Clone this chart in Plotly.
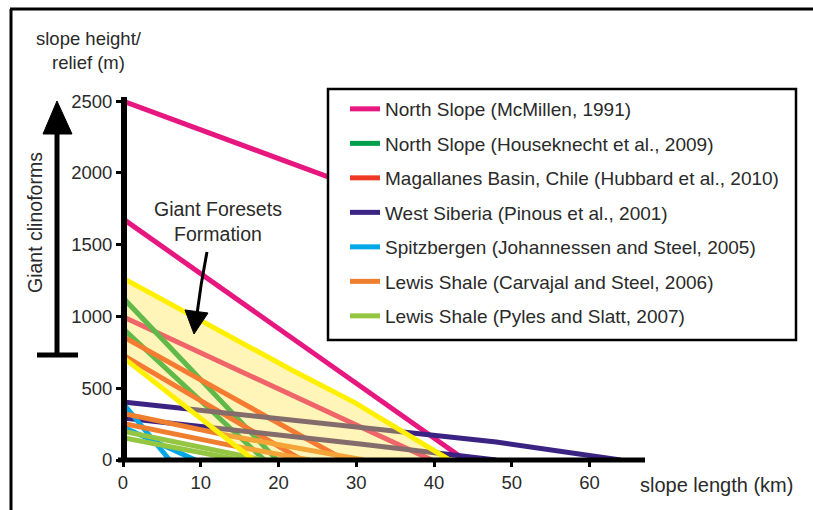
import plotly.graph_objects as go

# ---------------- data ----------------
series_names = [
    "North Slope (McMillen, 1991)",
    "North Slope (Houseknecht et al., 2009)",
    "Magallanes Basin, Chile (Hubbard et al., 2010)",
    "West Siberia (Pinous et al., 2001)",
    "Spitzbergen (Johannessen and Steel, 2005)",
    "Lewis Shale (Carvajal and Steel, 2006)",
    "Lewis Shale (Pyles and Slatt, 2007)",
]
series_colors = ["#e6177f", "#009f4d", "#ee3a24", "#3b2383", "#00a8e8", "#ef7f2e", "#94c642"]

# each series: list of profiles (slope length km, relief m)
mcmillen_x = [[0, 40], [0, 44], [0, 39.7]]
mcmillen_y = [[2500, 1700], [1680, 0], [998, 0]]
houseknecht_x = [[0, 19.8], [0, 18.2]]
houseknecht_y = [[1130, 0], [915, 0]]
hubbard_x = [[0, 28.5], [0, 23]]
hubbard_y = [[860, 0], [730, 0]]
pinous_x = [[0, 13, 30, 48, 64], [0, 13.5, 30.5, 48]]
pinous_y = [[404, 330, 225, 125, 0], [292, 215, 112, 0]]
johannessen_x = [[0, 6], [0, 9.3]]
johannessen_y = [[395, 0], [230, 0]]
carvajal_x = [[0, 14, 31], [0, 14, 24]]
carvajal_y = [[325, 165, 0], [255, 100, 0]]
pyles_x = [[0, 18], [0, 15]]
pyles_y = [[200, 0], [155, 0]]

series_x = [mcmillen_x, houseknecht_x, hubbard_x, pinous_x, johannessen_x, carvajal_x, pyles_x]
series_y = [mcmillen_y, houseknecht_y, hubbard_y, pinous_y, johannessen_y, carvajal_y, pyles_y]

# giant foresets envelope (yellow band)
band_upper_x = [0, 21.7, 29.8, 42]
band_upper_y = [1267, 627, 400, 0]
band_lower_x = [0, 16.8]
band_lower_y = [715, 0]

x_ticks = [0, 10, 20, 30, 40, 50, 60]
y_ticks = [0, 500, 1000, 1500, 2000, 2500]

# ---------------- layout geometry ----------------
W, H = 813, 510
ML, MR, MT, MB = 123, 169, 94, 50
PW, PH = W - ML - MR, H - MT - MB
FONT = "Liberation Sans, Arial, Helvetica, sans-serif"
TXT = "#2a2a2a"


def P(px, py):
    """pixel -> paper coords"""
    return (px - ML) / PW, (H - MB - py) / PH


def join(segs):
    out = []
    for i, s in enumerate(segs):
        if i:
            out.append(None)
        out.extend(s)
    return out


fig = go.Figure()

for name, col, sx, sy in zip(series_names, series_colors, series_x, series_y):
    fig.add_trace(go.Scatter(
        x=join(sx), y=join(sy), mode="lines", name=name, legendgroup=name,
        line=dict(color=col, width=5), connectgaps=False, hoverinfo="skip"))

# translucent yellow envelope drawn over the profiles
fig.add_trace(go.Scatter(
    x=band_upper_x + band_lower_x[::-1], y=band_upper_y + band_lower_y[::-1],
    fill="toself", fillcolor="rgba(255,228,70,0.38)", mode="lines",
    line=dict(width=0), showlegend=False, hoverinfo="skip"))
fig.add_trace(go.Scatter(x=band_upper_x, y=band_upper_y, mode="lines",
                         line=dict(color="#fff000", width=5), showlegend=False, hoverinfo="skip"))
fig.add_trace(go.Scatter(x=band_lower_x, y=band_lower_y, mode="lines",
                         line=dict(color="#fff000", width=5), showlegend=False, hoverinfo="skip"))

shapes = []
# outer frame (top + left)
x0, y0 = P(10, 9)
x1, _ = P(813, 9)
_, yb = P(11, 510)
xl, _ = P(11, 9)
shapes.append(dict(type="line", xref="paper", yref="paper", x0=x0, y0=y0, x1=x1, y1=y0,
                   line=dict(color="black", width=3)))
shapes.append(dict(type="line", xref="paper", yref="paper", x0=xl, y0=y0, x1=xl, y1=yb,
                   line=dict(color="black", width=3)))
# axis lines
ax0, ay0 = P(118, 460)
ax1, _ = P(645, 460)
shapes.append(dict(type="line", xref="paper", yref="paper", x0=ax0, y0=ay0, x1=ax1, y1=ay0,
                   line=dict(color="black", width=5)))
yx, yy0 = P(124, 462)
_, yy1 = P(124, 97)
shapes.append(dict(type="line", xref="paper", yref="paper", x0=yx, y0=yy0, x1=yx, y1=yy1,
                   line=dict(color="black", width=6)))
# giant clinoforms arrow
sx0, sy0 = P(57, 355)
_, sy1 = P(57, 128)
shapes.append(dict(type="line", xref="paper", yref="paper", x0=sx0, y0=sy0, x1=sx0, y1=sy1,
                   line=dict(color="black", width=5)))
bx0, _ = P(37, 355)
bx1, _ = P(78, 355)
shapes.append(dict(type="line", xref="paper", yref="paper", x0=bx0, y0=sy0, x1=bx1, y1=sy0,
                   line=dict(color="black", width=5)))


def path(pts, close=False):
    s = ""
    for i, (px, py) in enumerate(pts):
        x, y = P(px, py)
        s += ("M" if i == 0 else "L") + f"{x:.5f},{y:.5f} "
    return s + ("Z" if close else "")


shapes.append(dict(type="path", xref="paper", yref="paper",
                   path=path([(57, 101), (43, 134), (72, 134)], True),
                   fillcolor="black", line=dict(color="black", width=1)))
# curved arrow for "Giant Foresets Formation"
q0 = P(207, 252)
q1 = P(201, 282)
q2 = P(197, 314)
shapes.append(dict(type="path", xref="paper", yref="paper",
                   path=f"M{q0[0]:.5f},{q0[1]:.5f} Q{q1[0]:.5f},{q1[1]:.5f} {q2[0]:.5f},{q2[1]:.5f}",
                   line=dict(color="black", width=3)))
shapes.append(dict(type="path", xref="paper", yref="paper",
                   path=path([(194, 334), (185, 310), (208, 313)], True),
                   fillcolor="black", line=dict(color="black", width=1)))
# legend frame (legend itself drawn transparent on top)
fx0, fy0 = P(328, 89)
fx1, fy1 = P(796, 340)
shapes.append(dict(type="rect", xref="paper", yref="paper", x0=fx0, y0=fy0, x1=fx1, y1=fy1,
                   fillcolor="white", line=dict(color="black", width=2.5)))

annotations = []


def txt(text, px, py, size=17, angle=0):
    x, y = P(px, py)
    annotations.append(dict(text=text, x=x, y=y, xref="paper", yref="paper", showarrow=False,
                            xanchor="center", yanchor="middle", textangle=angle,
                            font=dict(family=FONT, size=size, color=TXT)))


txt("slope height/<br>relief (m)", 89, 50, 18.5)
txt("Giant clinoforms", 35, 223, 19.5, -90)
txt("Giant Foresets<br>Formation", 218, 221, 19.5)
txt("slope length (km)", 716, 485, 20)

lx, ly = P(345, 90)

fig.update_layout(
    width=W, height=H, margin=dict(l=ML, r=MR, t=MT, b=MB),
    paper_bgcolor="white", plot_bgcolor="white",
    font=dict(family=FONT, size=18, color=TXT),
    xaxis=dict(range=[0, 67], tickvals=x_ticks, showgrid=False, zeroline=False, showline=False,
               ticks="outside", ticklen=6, tickwidth=3, tickcolor="black",
               tickfont=dict(family=FONT, size=18.5, color=TXT)),
    yaxis=dict(range=[0, 2550], tickvals=y_ticks, showgrid=False, zeroline=False, showline=False,
               ticks="outside", ticklen=6, tickwidth=3, tickcolor="black",
               tickfont=dict(family=FONT, size=18.5, color=TXT)),
    legend=dict(x=lx, y=ly, xanchor="left", yanchor="top", bgcolor="rgba(0,0,0,0)",
                borderwidth=0, tracegroupgap=6.8, itemwidth=30,
                font=dict(family=FONT, size=19, color=TXT)),
    shapes=shapes, annotations=annotations, showlegend=True,
)

fig.write_html("out.html")
